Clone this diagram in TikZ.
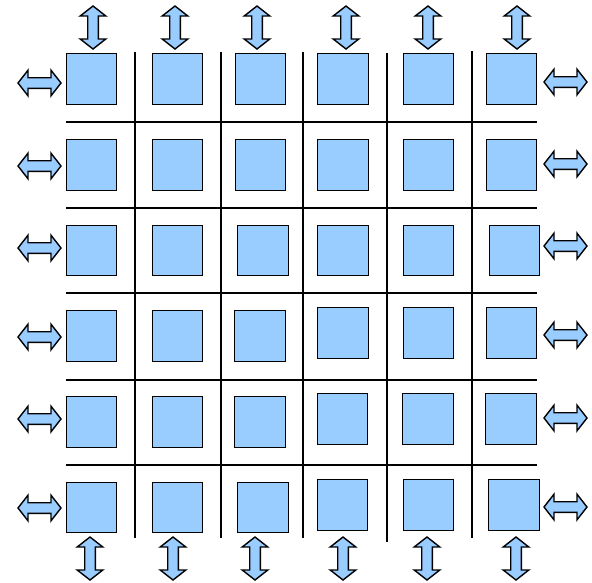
\documentclass[tikz,border=0pt]{standalone}
\definecolor{cellblue}{RGB}{153,204,255}
\tikzset{
  cell/.style={draw=black, fill=cellblue, line width=1.4pt, minimum size=50.5pt, inner sep=0pt, outer sep=0pt},
  gridline/.style={draw=black, line width=1.5pt},
  arrowbody/.style={draw=black, fill=cellblue, line width=1.4pt, line join=miter},
  dbl/.pic={\path[arrowbody] (0,-21.5) -- (12.8,-11.5) -- (5.3,-11.5) -- (5.3,11.5) -- (12.8,11.5) -- (0,21.5) -- (-12.8,11.5) -- (-5.3,11.5) -- (-5.3,-11.5) -- (-12.8,-11.5) -- cycle;}
}
\begin{document}
\begin{tikzpicture}[x=1pt,y=-1pt]
\useasboundingbox (0,0) rectangle (592,582);
% grid lines
\foreach \yy in {122,208,293,380,465}
  \draw[gridline] (66,\yy) -- (537,\yy);
\foreach \xx/\ya/\yb in {135/52/538,221/52/538,303/52/538,387/53/542,472/51/538}
  \draw[gridline] (\xx,\ya) -- (\xx,\yb);
% cells
\foreach \r/\yA/\yB/\xa/\xb/\xc/\xd/\xe/\xf in {
  1/79/79/91.5/177.5/260.5/343/428.5/511.5,
  2/165/165/91.5/177.5/260.5/343/428.5/511.5,
  3/250.5/250.5/91.5/177.5/263/343/428.5/514.5,
  4/336/333/91.5/177.5/260/343/428.5/511.5,
  5/422/419/91.5/177.5/260/342.5/428/511,
  6/507.5/505/91.5/177.5/263/342.5/428.5/514}{
  \node[cell] (c\r-1) at (\xa,\yA) {};
  \node[cell] (c\r-2) at (\xb,\yA) {};
  \node[cell] (c\r-3) at (\xc,\yA) {};
  \node[cell] (c\r-4) at (\xd,\yB) {};
  \node[cell] (c\r-5) at (\xe,\yB) {};
  \node[cell] (c\r-6) at (\xf,\yB) {};
}
% top and bottom arrows
\foreach \xx in {93,175,257,346,428,517}
  \pic at (\xx,27.5) {dbl};
\foreach \xx in {90,173,255,343,427,516}
  \pic at (\xx,558.5) {dbl};
% left and right arrows
\foreach \yy in {83,166,248,337,419,508}
  \pic[rotate=90] at (39.5,\yy) {dbl};
\foreach \yy in {82,164,246,335,418,507}
  \pic[rotate=90] at (565.5,\yy) {dbl};
\end{tikzpicture}
\end{document}
